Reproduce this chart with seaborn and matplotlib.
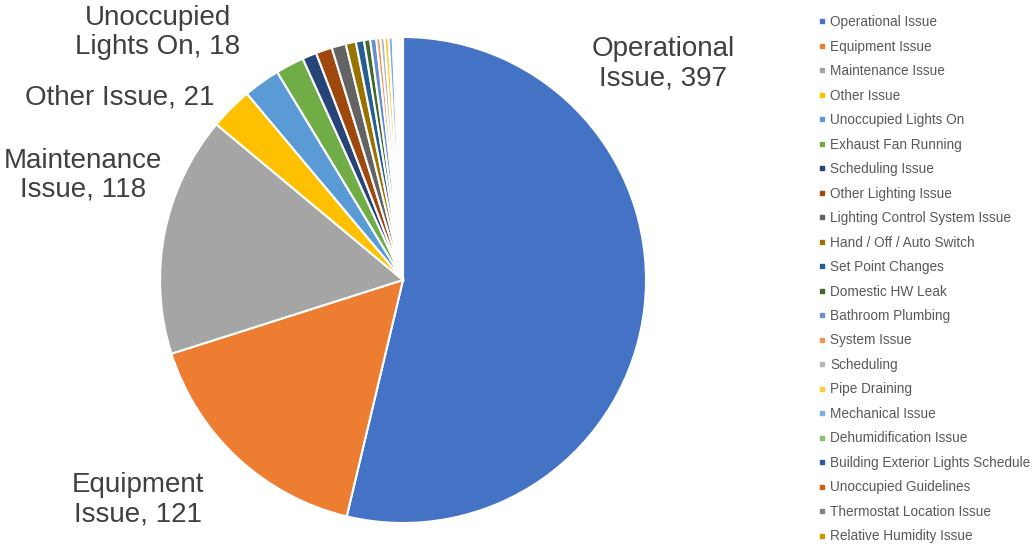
import matplotlib
matplotlib.use("Agg")
import matplotlib.pyplot as plt
from matplotlib.lines import Line2D
import seaborn as sns

# ─── Data ─────────────────────────────────────────────────────────────────────
categories = [
    "Operational Issue", "Equipment Issue", "Maintenance Issue", "Other Issue",
    "Unoccupied Lights On", "Exhaust Fan Running", "Scheduling Issue",
    "Other Lighting Issue", "Lighting Control System Issue",
    "Hand / Off / Auto Switch", "Set Point Changes", "Domestic HW Leak",
    "Bathroom Plumbing", "System Issue", "Scheduling", "Pipe Draining",
    "Mechanical Issue", "Dehumidification Issue",
    "Building Exterior Lights Schedule", "Unoccupied Guidelines",
    "Thermostat Location Issue", "Relative Humidity Issue",
]
counts = [397, 121, 118, 21, 18, 14, 7, 8, 7, 5, 4, 3, 3, 2, 2, 2, 2, 1, 1, 1, 1, 1]
label_text = ["Operational\nIssue, 397", "Equipment\nIssue, 121",
              "Maintenance\nIssue, 118", "Other Issue, 21",
              "Unoccupied\nLights On, 18"]
label_pos = [(1.07, 0.89), (-1.09, -0.905), (-1.317, 0.432),
             (-1.165, 0.753), (-1.008, 1.02)]

office = ["#4472C4", "#ED7D31", "#A5A5A5", "#FFC000", "#5B9BD5", "#70AD47",
          "#264478", "#9E480E", "#636363", "#997300", "#255E91", "#43682B",
          "#698ED0", "#F1975A", "#B7B7B7", "#FFCD33", "#7CAFDD", "#8CC168",
          "#335AA1", "#D26012", "#828282", "#CC9A00"]
palette = sns.color_palette(office)

sns.set_theme(style="white")
plt.rcParams["font.family"] = ["Arial", "Liberation Sans", "DejaVu Sans"]

fig = plt.figure(figsize=(10.36, 5.48), dpi=100)
r_px = 243
cx, cy = 403, 548 - 280
ax = fig.add_axes([(cx - r_px) / 1036, (cy - r_px) / 548,
                   2 * r_px / 1036, 2 * r_px / 548])

wedges, _ = ax.pie(counts, colors=palette, startangle=90, counterclock=False,
                   radius=1.0, wedgeprops=dict(edgecolor="white", linewidth=1.5))
ax.set_xlim(-1, 1)
ax.set_ylim(-1, 1)
ax.set_aspect("equal")

for txt, (x, y) in zip(label_text, label_pos):
    ax.text(x, y, txt, ha="center", va="center", fontsize=20,
            color="#404040", linespacing=1.15, clip_on=False)

# ─── Legend ───────────────────────────────────────────────────────────────────
handles = [Line2D([], [], marker="s", linestyle="", markersize=3.5,
                  markerfacecolor=c, markeredgecolor=c) for c in palette]
fig.legend(handles, categories, loc="upper left",
           bbox_to_anchor=(806 / 1036, 1 - 3 / 548),
           frameon=False, fontsize=9.8, handlelength=0.5,
           handletextpad=0.4, labelspacing=0.77,
           labelcolor="#595959")

fig.savefig("out.png", dpi=100)
